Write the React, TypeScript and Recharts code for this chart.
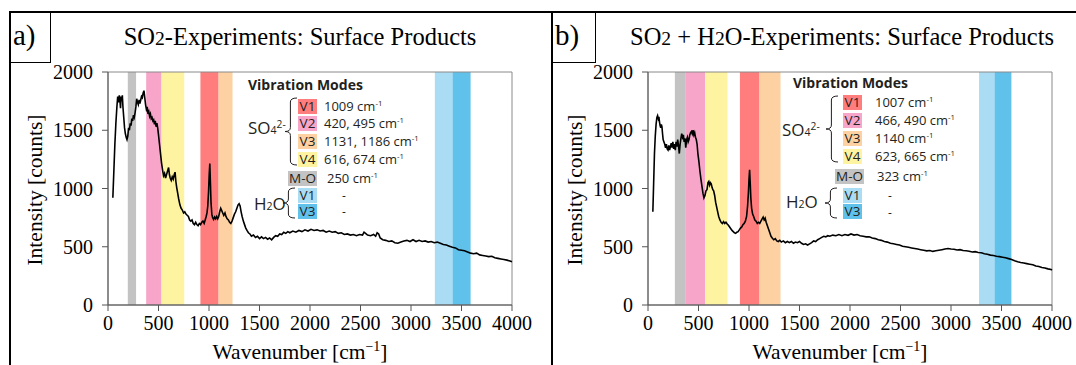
import React from "react";
import { ComposedChart, Line, XAxis, YAxis, ReferenceArea } from "recharts";

const xTicks = [0, 500, 1000, 1500, 2000, 2500, 3000, 3500, 4000];
const yTicks = [0, 500, 1000, 1500, 2000];

const bandColors: Record<string, string> = {
  mo: "#c3c3c3",
  v2: "#f7a6ca",
  v4: "#fdf3a1",
  v1: "#ff7d7d",
  v3: "#fdd1a1",
  h1: "#aadcf3",
  h3: "#60c1eb",
};

// [mode, from, to] in cm-1
const bandsA: [string, number, number][] = [
  ["mo", 196, 278],
  ["v2", 378, 530],
  ["v4", 530, 755],
  ["v1", 915, 1095],
  ["v3", 1095, 1233],
  ["h1", 3236, 3411],
  ["h3", 3411, 3590],
];
const bandsB: [string, number, number][] = [
  ["mo", 266, 368],
  ["v2", 368, 566],
  ["v4", 566, 787],
  ["v1", 910, 1104],
  ["v3", 1104, 1312],
  ["h1", 3278, 3431],
  ["h3", 3431, 3598],
];

const modeNames = ["V1", "V2", "V3", "V4"];
const modeKeys = ["v1", "v2", "v3", "v4"];
const modesA = ["1009", "420, 495", "1131, 1186", "616, 674"];
const modesB = ["1007", "466, 490", "1140", "623, 665"];
const metalOxA = "250";
const metalOxB = "323";

// SO2 experiment: [wavenumber, counts]
const spectrumA: [number, number][] = [
  [48, 920], [58, 1150], [68, 1380], [78, 1560], [88, 1700], [96, 1790], [104, 1740], [112, 1800],
  [118, 1760], [124, 1690], [130, 1790], [136, 1750], [142, 1800], [148, 1700], [156, 1610], [164, 1520],
  [172, 1470], [180, 1440], [188, 1420], [196, 1450], [204, 1520], [212, 1500], [220, 1560], [228, 1540],
  [236, 1600], [244, 1580], [252, 1630], [260, 1610], [268, 1650], [276, 1700], [284, 1770], [292, 1740],
  [300, 1720], [308, 1760], [316, 1730], [324, 1760], [332, 1790], [340, 1780], [348, 1820], [356, 1840],
  [364, 1780], [372, 1720], [380, 1680], [388, 1700], [396, 1640], [404, 1660], [412, 1620], [420, 1640],
  [428, 1600], [436, 1610], [444, 1580], [452, 1590], [460, 1550], [468, 1580], [476, 1530], [484, 1560],
  [492, 1520], [500, 1460], [510, 1380], [520, 1300], [530, 1220], [540, 1160], [550, 1110], [560, 1130],
  [570, 1090], [580, 1120], [590, 1150], [600, 1180], [608, 1120], [616, 1090], [626, 1070], [636, 1100],
  [646, 1080], [656, 1120], [664, 1140], [672, 1060], [680, 1010], [690, 960], [700, 910], [712, 860],
  [724, 830], [736, 815], [748, 790], [760, 800], [772, 780], [784, 770], [796, 760], [808, 730],
  [820, 720], [832, 730], [844, 700], [856, 690], [868, 710], [880, 690], [892, 680], [904, 700],
  [916, 690], [928, 710], [940, 720], [952, 700], [962, 730], [972, 760], [980, 790], [988, 850],
  [996, 980], [1002, 1120], [1008, 1215], [1014, 1050], [1020, 880], [1028, 780], [1036, 750], [1046, 735],
  [1056, 755], [1066, 740], [1076, 760], [1086, 740], [1096, 760], [1106, 800], [1116, 830], [1126, 810],
  [1136, 790], [1146, 770], [1158, 790], [1168, 760], [1180, 740], [1192, 730], [1204, 710], [1216, 700],
  [1228, 720], [1240, 750], [1252, 780], [1264, 800], [1276, 830], [1288, 860], [1298, 870], [1308, 850],
  [1318, 800], [1328, 760], [1340, 720], [1352, 690], [1364, 660], [1376, 640], [1390, 620], [1405, 610],
  [1420, 590], [1440, 600], [1460, 580], [1480, 590], [1500, 570], [1520, 585], [1540, 570], [1560, 580],
  [1580, 565], [1600, 575], [1620, 560], [1640, 580], [1660, 595], [1680, 590], [1700, 610], [1720, 605],
  [1740, 625], [1760, 615], [1780, 630], [1800, 620], [1830, 635], [1860, 625], [1890, 640], [1920, 630],
  [1950, 645], [1980, 635], [2010, 650], [2040, 640], [2070, 645], [2100, 635], [2130, 640], [2160, 625],
  [2190, 635], [2220, 625], [2250, 630], [2280, 615], [2310, 620], [2340, 605], [2370, 610], [2400, 600],
  [2430, 605], [2460, 595], [2490, 605], [2520, 600], [2535, 625], [2550, 615], [2570, 600], [2600, 595],
  [2630, 605], [2650, 590], [2665, 620], [2680, 610], [2695, 575], [2720, 560], [2750, 555], [2780, 545],
  [2810, 550], [2840, 535], [2870, 530], [2900, 540], [2930, 550], [2960, 555], [2990, 545], [3020, 560],
  [3050, 545], [3080, 555], [3110, 545], [3140, 550], [3170, 540], [3200, 545], [3230, 535], [3260, 540],
  [3290, 530], [3320, 520], [3350, 515], [3380, 505], [3410, 495], [3440, 490], [3470, 475], [3500, 470],
  [3530, 465], [3560, 455], [3590, 445], [3620, 440], [3650, 445], [3680, 430], [3710, 425], [3740, 420],
  [3770, 415], [3800, 418], [3830, 405], [3860, 400], [3890, 395], [3920, 390], [3950, 385], [3980, 378],
  [4000, 372],
];

// SO2 + H2O experiment
const spectrumB: [number, number][] = [
  [48, 800], [56, 1050], [64, 1300], [72, 1450], [80, 1550], [88, 1610], [95, 1625], [102, 1600],
  [108, 1615], [114, 1570], [120, 1540], [126, 1520], [132, 1550], [138, 1530], [144, 1470], [150, 1420],
  [158, 1400], [166, 1380], [174, 1350], [182, 1380], [190, 1340], [198, 1330], [206, 1370], [214, 1330],
  [222, 1360], [230, 1390], [238, 1350], [246, 1400], [254, 1340], [262, 1380], [270, 1330], [278, 1400],
  [286, 1360], [294, 1420], [302, 1370], [310, 1300], [318, 1380], [326, 1430], [334, 1470], [342, 1440],
  [350, 1460], [358, 1400], [366, 1430], [374, 1350], [382, 1420], [390, 1440], [398, 1400], [406, 1420],
  [414, 1460], [422, 1480], [430, 1490], [438, 1470], [446, 1500], [454, 1460], [462, 1480], [470, 1440],
  [478, 1420], [486, 1380], [494, 1300], [504, 1230], [514, 1150], [524, 1080], [534, 1020], [544, 960],
  [554, 920], [564, 940], [574, 980], [584, 990], [594, 1050], [602, 1060], [610, 1030], [618, 1050],
  [626, 1040], [634, 1010], [642, 990], [650, 980], [660, 940], [670, 880], [680, 840], [690, 800],
  [700, 760], [712, 730], [724, 710], [736, 700], [748, 715], [760, 700], [772, 710], [784, 695],
  [796, 685], [808, 670], [820, 655], [832, 640], [844, 630], [856, 620], [868, 615], [880, 625],
  [892, 630], [904, 645], [916, 660], [928, 670], [940, 690], [952, 700], [964, 720], [976, 760],
  [986, 850], [994, 960], [1000, 1080], [1006, 1160], [1012, 1050], [1018, 920], [1026, 830], [1036, 780],
  [1046, 760], [1058, 730], [1070, 720], [1082, 700], [1094, 710], [1106, 700], [1118, 720], [1130, 740],
  [1140, 755], [1150, 730], [1160, 745], [1170, 710], [1182, 680], [1194, 650], [1206, 620], [1218, 590],
  [1230, 575], [1245, 560], [1260, 570], [1275, 550], [1290, 545], [1305, 555], [1320, 540], [1340, 550],
  [1360, 535], [1380, 545], [1400, 535], [1420, 545], [1440, 530], [1460, 540], [1480, 535], [1500, 545],
  [1520, 530], [1540, 520], [1560, 525], [1580, 515], [1600, 525], [1620, 535], [1640, 550], [1660, 545],
  [1680, 560], [1700, 570], [1720, 580], [1740, 590], [1760, 585], [1780, 595], [1800, 590], [1830, 600],
  [1860, 595], [1890, 605], [1920, 595], [1950, 605], [1980, 598], [2010, 610], [2040, 600], [2070, 605],
  [2100, 595], [2130, 590], [2160, 585], [2190, 585], [2220, 575], [2250, 570], [2280, 560], [2310, 555],
  [2340, 545], [2370, 540], [2400, 530], [2430, 525], [2460, 520], [2490, 515], [2520, 505], [2550, 500],
  [2580, 495], [2610, 490], [2640, 485], [2670, 480], [2700, 475], [2730, 470], [2760, 465], [2790, 468],
  [2820, 460], [2850, 465], [2880, 470], [2910, 475], [2940, 480], [2970, 485], [3000, 480], [3030, 478],
  [3060, 472], [3090, 475], [3120, 468], [3150, 465], [3180, 462], [3210, 455], [3240, 458], [3270, 450],
  [3300, 448], [3330, 440], [3360, 435], [3390, 428], [3420, 425], [3450, 418], [3480, 415], [3510, 410],
  [3540, 405], [3570, 398], [3600, 390], [3630, 380], [3660, 372], [3690, 365], [3720, 360], [3750, 355],
  [3780, 350], [3810, 345], [3840, 335], [3870, 330], [3900, 322], [3930, 318], [3960, 310], [3990, 305],
  [4000, 300],
];

const SERIF = "'Liberation Serif', 'Times New Roman', serif";
const SANS = "'Open Sans', 'Noto Sans', sans-serif";
const INK = "#231f20";

const PLOT_TOP = 72;
const PLOT_BOTTOM = 305;

function Spectrum({ data, bands, left, width, plotLeft, plotWidth }: { data: [number, number][]; bands: [string, number, number][]; left: number; width: number; plotLeft: number; plotWidth: number }) {
  const rows = data.map(([x, y]) => ({ x, y }));
  return (
    <div style={{ position: "absolute", left, top: 0 }}>
      <ComposedChart
        width={width}
        height={365}
        data={rows}
        margin={{ top: PLOT_TOP, right: width - plotLeft - plotWidth, bottom: 365 - PLOT_BOTTOM - 40, left: plotLeft - 60 }}
      >
        {bands.map(([k, x1, x2]) => (
          <ReferenceArea key={k} x1={x1} x2={x2} y1={0} y2={2000} fill={bandColors[k]} fillOpacity={1} stroke="none" />
        ))}
        <ReferenceArea x1={0} x2={4000} y1={0} y2={2000} fill="none" stroke="#8a8a8a" strokeWidth={1} />
        <XAxis
          type="number"
          dataKey="x"
          domain={[0, 4000]}
          ticks={xTicks}
          height={40}
          tickSize={6}
          tickMargin={5}
          axisLine={{ stroke: "#555" }}
          tickLine={{ stroke: "#555" }}
          tick={{ fontFamily: SERIF, fontSize: 20, fill: "#000" }}
        />
        <YAxis
          type="number"
          domain={[0, 2000]}
          ticks={yTicks}
          width={60}
          tickSize={6}
          tickMargin={9}
          axisLine={{ stroke: "#555" }}
          tickLine={{ stroke: "#555" }}
          tick={{ fontFamily: SERIF, fontSize: 20, fill: "#000" }}
        />
        <Line type="linear" dataKey="y" stroke="#000" strokeWidth={1.6} dot={false} isAnimationActive={false} />
      </ComposedChart>
    </div>
  );
}

const Sub = ({ children }: { children: React.ReactNode }) => (
  <span style={{ fontSize: "0.62em" }}>{children}</span>
);
const Sup = ({ children }: { children: React.ReactNode }) => (
  <span style={{ fontSize: "0.6em", verticalAlign: "0.6em", lineHeight: 0 }}>{children}</span>
);

function T({ x, y, size, font, bold, children }: { x: number; y: number; size: number; font?: string; bold?: boolean; children: React.ReactNode }) {
  return (
    <div
      style={{
        position: "absolute",
        left: x,
        top: y - size * 0.55,
        height: size * 1.1,
        fontSize: size,
        lineHeight: `${size * 1.1}px`,
        fontFamily: font || SANS,
        fontWeight: bold ? 700 : 400,
        color: INK,
        whiteSpace: "nowrap",
      }}
    >
      {children}
    </div>
  );
}

function ModeBox({ x, y, w, color, label }: { x: number; y: number; w: number; color: string; label: string }) {
  return (
    <div
      style={{
        position: "absolute",
        left: x,
        top: y - 7.5,
        width: w,
        height: 15,
        background: color,
        fontFamily: SANS,
        fontSize: 13.5,
        lineHeight: "15px",
        textAlign: "center",
        color: INK,
      }}
    >
      {label}
    </div>
  );
}

function Brace({ x, y0, y1, w }: { x: number; y0: number; y1: number; w: number }) {
  const m = (y0 + y1) / 2;
  const xm = x + w * 0.45;
  const r = 4;
  const d = `M${x + w},${y0} Q${xm},${y0} ${xm},${y0 + r} L${xm},${m - r} Q${xm},${m} ${x},${m} Q${xm},${m} ${xm},${m + r} L${xm},${y1 - r} Q${xm},${y1} ${x + w},${y1}`;
  return (
    <svg style={{ position: "absolute", left: 0, top: 0, overflow: "visible" }} width={1} height={1}>
      <path d={d} fill="none" stroke={INK} strokeWidth={1} />
    </svg>
  );
}

type LegendLayout = {
  head: [number, number];
  rows: number[];
  boxX: number;
  valX: number;
  mo: number;
  moX: number;
  moValX: number;
  h2o: [number, number];
  dashX: number;
  so4: [number, number];
  so4Brace: [number, number, number];
  h2oLabel: [number, number];
  h2oBrace: [number, number, number];
};

function VibLegend({ L, values, mo }: { L: LegendLayout; values: string[]; mo: string }) {
  return (
    <>
      <T x={L.head[0]} y={L.head[1]} size={14} bold>Vibration Modes</T>
      {modeNames.map((n, i) => (
        <React.Fragment key={n}>
          <ModeBox x={L.boxX} y={L.rows[i]} w={19} color={bandColors[modeKeys[i]]} label={n} />
          <T x={L.valX} y={L.rows[i]} size={13}>
            {values[i]} cm<Sup>-1</Sup>
          </T>
        </React.Fragment>
      ))}
      <ModeBox x={L.moX} y={L.mo} w={29} color={bandColors.mo} label="M-O" />
      <T x={L.moValX} y={L.mo} size={13}>
        {mo} cm<Sup>-1</Sup>
      </T>
      <ModeBox x={L.boxX} y={L.h2o[0]} w={19} color={bandColors.h1} label="V1" />
      <ModeBox x={L.boxX} y={L.h2o[1]} w={19} color={bandColors.h3} label="V3" />
      <T x={L.dashX} y={L.h2o[0] + 1} size={12}>-</T>
      <T x={L.dashX} y={L.h2o[1] + 1} size={12}>-</T>
      <T x={L.so4[0]} y={L.so4[1]} size={17}>
        SO<Sub>4</Sub><Sup>2-</Sup>
      </T>
      <Brace x={L.so4Brace[0]} y0={L.so4Brace[1]} y1={L.so4Brace[2]} w={12} />
      <T x={L.h2oLabel[0]} y={L.h2oLabel[1]} size={17}>
        H<Sub>2</Sub>O
      </T>
      <Brace x={L.h2oBrace[0]} y0={L.h2oBrace[1]} y1={L.h2oBrace[2]} w={12} />
    </>
  );
}

const layoutA: LegendLayout = {
  head: [248, 85],
  rows: [106, 123.5, 141, 159],
  boxX: 298,
  valX: 324,
  mo: 178,
  moX: 288,
  moValX: 327,
  h2o: [195, 211],
  dashX: 342,
  so4: [248, 128],
  so4Brace: [285, 98, 165],
  h2oLabel: [254, 204],
  h2oBrace: [283, 188, 218],
};

const layoutB: LegendLayout = {
  head: [793, 83],
  rows: [102.5, 120, 138, 156],
  boxX: 843,
  valX: 875,
  mo: 176,
  moX: 835,
  moValX: 877,
  h2o: [195, 211.5],
  dashX: 888,
  so4: [782, 130],
  so4Brace: [826, 96, 162],
  h2oLabel: [786, 202],
  h2oBrace: [825, 188, 218],
};

function Rule({ x, y, w, h }: { x: number; y: number; w: number; h: number }) {
  return <div style={{ position: "absolute", left: x, top: y, width: w, height: h, background: "#000" }} />;
}

function Panel({ ox, width, frameX, tag, tagW, title, titleX, data, bands, layout, values, mo, plotLeft, plotWidth }: any) {
  const cx = ox + plotLeft + plotWidth / 2;
  return (
    <>
      <Spectrum data={data} bands={bands} left={ox} width={width} plotLeft={plotLeft} plotWidth={plotWidth} />
      <Rule x={frameX} y={11} w={1076 - frameX} h={2} />
      <Rule x={frameX} y={11} w={2} h={360} />
      <div
        style={{
          position: "absolute",
          left: frameX,
          top: 11,
          width: tagW,
          height: 52,
          borderRight: "1.5px solid #000",
          borderBottom: "1.5px solid #000",
          fontFamily: SERIF,
          fontSize: 29,
          lineHeight: "48px",
          paddingLeft: 4,
          boxSizing: "border-box",
          color: "#000",
        }}
      >
        {tag}
      </div>
      <div
        style={{
          position: "absolute",
          left: titleX,
          top: 37,
          transform: "translate(-50%, -50%)",
          fontFamily: SERIF,
          fontSize: 24.5,
          whiteSpace: "nowrap",
          color: "#000",
        }}
      >
        {title}
      </div>
      <div
        style={{
          position: "absolute",
          left: ox + 35,
          top: 190,
          transform: "translate(-50%, -50%) rotate(-90deg)",
          fontFamily: SERIF,
          fontSize: 21.5,
          whiteSpace: "nowrap",
          color: "#000",
        }}
      >
        Intensity [counts]
      </div>
      <div
        style={{
          position: "absolute",
          left: cx - 10,
          top: 352,
          transform: "translate(-50%, -50%)",
          fontFamily: SERIF,
          fontSize: 21.5,
          whiteSpace: "nowrap",
          color: "#000",
        }}
      >
        Wavenumber [cm<span style={{ fontSize: "0.65em", verticalAlign: "0.55em" }}>−1</span>]
      </div>
      <VibLegend L={layout} values={values} mo={mo} />
    </>
  );
}

export default function App() {
  return (
    <div style={{ position: "absolute", left: 0, top: 0, width: 1076, height: 365, background: "#fff", overflow: "hidden" }}>
      <Panel
        ox={0}
        width={540}
        frameX={9}
        tagW={42}
        plotLeft={108}
        plotWidth={404}
        titleX={300}
        tag="a)"
        title={<>SO<span style={{ fontSize: "0.8em" }}>2</span>-Experiments: Surface Products</>}
        data={spectrumA}
        bands={bandsA}
        layout={layoutA}
        values={modesA}
        mo={metalOxA}
      />
      <Panel
        ox={540}
        width={536}
        frameX={551}
        tagW={45}
        plotLeft={108}
        plotWidth={404}
        titleX={842}
        tag="b)"
        title={<>SO<span style={{ fontSize: "0.8em" }}>2</span> + H<span style={{ fontSize: "0.8em" }}>2</span>O-Experiments: Surface Products</>}
        data={spectrumB}
        bands={bandsB}
        layout={layoutB}
        values={modesB}
        mo={metalOxB}
      />
    </div>
  );
}
